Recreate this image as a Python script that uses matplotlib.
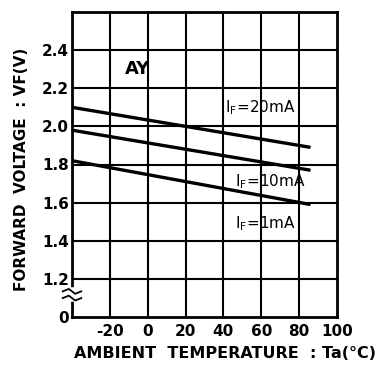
import numpy as np
import matplotlib
matplotlib.use("Agg")
from matplotlib import pyplot as plt

# ambient temperature (deg C) at the two ends of each curve
temp = [-40, 86]
vf_20ma = [2.10, 1.89]
vf_10ma = [1.98, 1.77]
vf_1ma = [1.82, 1.59]

x_ticks = [-20, 0, 20, 40, 60, 80, 100]
y_ticks = [1.0, 1.2, 1.4, 1.6, 1.8, 2.0, 2.2, 2.4]
y_tick_labels = ["0", "1.2", "1.4", "1.6", "1.8", "2.0", "2.2", "2.4"]

plt.rcParams['font.family'] = ['DejaVu Sans']
plt.rcParams['font.weight'] = 'bold'

fig = plt.figure(figsize=(3.81, 3.65), dpi=100)
ax = fig.add_axes([72 / 381, 48 / 365, 265 / 381, 305 / 365])

ax.set_xlim(-40, 100)
ax.set_ylim(1.0, 2.6)

# grid
for xv in np.arange(-20, 100, 20):
    ax.axvline(xv, color="black", lw=1.5, zorder=1)
for yv in np.arange(1.2, 2.5, 0.2):
    ax.axhline(yv, color="black", lw=1.5, zorder=1)

for vals in (vf_20ma, vf_10ma, vf_1ma):
    ax.plot(temp, vals, color="black", lw=2.4, solid_capstyle="butt", zorder=2)

for s in ax.spines.values():
    s.set_linewidth(2.0)

ax.set_xticks(x_ticks)
ax.set_xticklabels([str(v) for v in x_ticks])
ax.set_yticks(y_ticks)
ax.set_yticklabels(y_tick_labels)
ax.tick_params(length=0, labelsize=11, pad=2)
ax.tick_params(axis="x", pad=5)

# axis break marks on the left spine
ax.plot([0.0, 0.0], [0.058, 0.088], transform=ax.transAxes,
        color="white", lw=4, clip_on=False, zorder=5)
for yb in (0.062, 0.084):
    ax.plot([-0.035, -0.012, 0.012, 0.035],
            [yb, yb + 0.008, yb - 0.008, yb],
            transform=ax.transAxes, color="black", lw=1.3, clip_on=False, zorder=6)

ax.text(-12, 2.3, "AY", fontsize=13, ha="left", va="center")
ax.text(41, 2.1, r"I$_\mathregular{F}$=20mA", fontsize=11, fontweight="normal",
        ha="left", va="center")
ax.text(46, 1.71, r"I$_\mathregular{F}$=10mA", fontsize=11, fontweight="normal",
        ha="left", va="center")
ax.text(46, 1.49, r"I$_\mathregular{F}$=1mA", fontsize=11, fontweight="normal",
        ha="left", va="center")

fig.text(225 / 381, 12 / 365, "AMBIENT  TEMPERATURE  : Ta(°C)", fontsize=11.5,
         ha="center", va="center")
fig.text(22 / 381, 196 / 365, "FORWARD  VOLTAGE  : VF(V)", fontsize=11,
         ha="center", va="center", rotation=90)

fig.savefig("out.png", dpi=100)
